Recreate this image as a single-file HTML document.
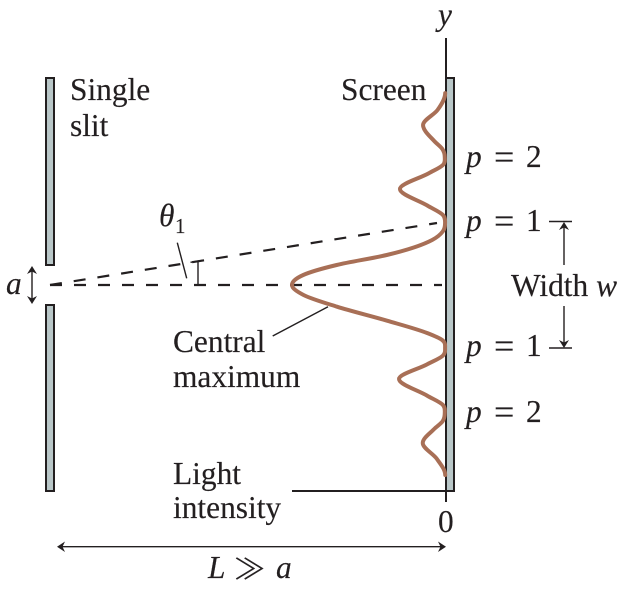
<!DOCTYPE html>
<html lang="en">
<head>
<meta charset="utf-8">
<title>Single slit diffraction</title>
<style>
html,body{margin:0;padding:0;background:#fff;width:628px;height:594px;overflow:hidden}
svg{display:block}
text{font-family:"Liberation Serif",serif;font-size:31.4px;fill:#231f20;stroke:#231f20;stroke-width:0.15}
.i{font-style:italic}
.thin{stroke:#231f20;stroke-width:1.4;fill:none}
.dash{stroke:#231f20;stroke-width:2.2;fill:none;stroke-dasharray:12 12}
.head{fill:#231f20;stroke:none}
.wall{fill:#b9c7c8;stroke:#231f20;stroke-width:2}
.eq{font-size:36px}
</style>
</head>
<body>
<svg id="chart" xmlns="http://www.w3.org/2000/svg" width="628" height="594" viewBox="0 0 628 594">
  <rect class="wall" x="46" y="78" width="8" height="187"/>
  <rect class="wall" x="46" y="305" width="8" height="186"/>
  <rect class="wall" x="446" y="78" width="8" height="413"/>
  <line x1="446" y1="38" x2="446" y2="502" stroke="#231f20" stroke-width="2"/>
  <line x1="292" y1="491" x2="446" y2="491" stroke="#231f20" stroke-width="2"/>

  <line class="dash" x1="50" y1="285" x2="442" y2="285"/>
  <line class="dash" x1="50" y1="285" x2="437" y2="223"/>

  <g id="curve-layer"></g>

  <g>
    <line class="thin" x1="198" y1="261.5" x2="198" y2="285"/>
    <line class="thin" x1="190.5" y1="262.3" x2="202" y2="260.4"/>
    <line class="thin" x1="177.3" y1="242.7" x2="186.7" y2="278.3"/>
  </g>
  <line class="thin" x1="272.7" y1="336" x2="328" y2="306.7"/>

  <g>
    <line class="thin" x1="32" y1="268" x2="32" y2="302"/>
    <path class="head" d="M32 266 L37 274 L32 271.5 L27 274 Z"/>
    <path class="head" d="M32 304 L37 296 L32 298.5 L27 296 Z"/>
  </g>
  <g>
    <line class="thin" x1="549" y1="221.5" x2="572" y2="221.5"/>
    <line class="thin" x1="564" y1="224" x2="564" y2="265"/>
    <path class="head" d="M564 222 L569 230 L564 227.5 L559 230 Z"/>
  </g>
  <g>
    <line class="thin" x1="549" y1="348" x2="572" y2="348"/>
    <line class="thin" x1="564" y1="306" x2="564" y2="346"/>
    <path class="head" d="M564 348 L569 340 L564 342.5 L559 340 Z"/>
  </g>
  <g>
    <line class="thin" x1="59" y1="546.7" x2="444" y2="546.7"/>
    <path class="head" d="M57 546.7 L65 541.5 L62.5 546.7 L65 552 Z"/>
    <path class="head" d="M446 546.7 L438 541.5 L440.5 546.7 L438 552 Z"/>
  </g>

  <text class="i" x="438" y="25">y</text>
  <text x="70" y="100">Single</text>
  <text x="70" y="136">slit</text>
  <text x="341" y="100">Screen</text>
  <text class="i" x="159" y="226">θ</text>
  <text x="175" y="233" style="font-size:21px">1</text>
  <text class="i" x="6" y="294">a</text>
  <text y="167"><tspan class="i" x="466">p</tspan><tspan class="eq" x="494" dy="2">=</tspan><tspan x="526" dy="-2">2</tspan></text>
  <text y="231"><tspan class="i" x="466">p</tspan><tspan class="eq" x="494" dy="2">=</tspan><tspan x="526" dy="-2">1</tspan></text>
  <text y="356"><tspan class="i" x="466">p</tspan><tspan class="eq" x="494" dy="2">=</tspan><tspan x="526" dy="-2">1</tspan></text>
  <text y="422"><tspan class="i" x="466">p</tspan><tspan class="eq" x="494" dy="2">=</tspan><tspan x="526" dy="-2">2</tspan></text>
  <text x="511" y="296">Width <tspan class="i">w</tspan></text>
  <text x="173" y="352">Central</text>
  <text x="173" y="387">maximum</text>
  <text x="173" y="484">Light</text>
  <text x="173" y="518">intensity</text>
  <text x="438" y="532">0</text>
  <text y="578"><tspan class="i" x="208">L</tspan><tspan class="i" x="276">a</tspan></text>
  <text transform="translate(233 579) scale(1.15 1)" style="font-family:'Noto Serif CJK SC','Liberation Serif',serif;font-size:29px;stroke-width:0.3">≫</text>
</svg>
<script>
// Position along the screen, in units of the first minimum (p = 1 at +/-1)
const screenPosition = [3.07,2.80,2.56,2.30,2.18,2.048,1.92,1.79,1.536,1.27,1.12,0.992,0.86,0.72,0.48,0.32,0.16,0,-0.16,-0.347,-0.571,-0.768,-0.88,-1.008,-1.13,-1.27,-1.504,-1.77,-1.92,-2.048,-2.18,-2.30,-2.528,-2.78,-3.04];
// Relative light intensity (central maximum = 1, as drawn)
const relativeIntensity = [0.005,0.055,0.149,0.075,0.025,0.008,0.02,0.11,0.299,0.12,0.02,0.006,0.02,0.09,0.385,0.71,0.927,1,0.925,0.708,0.383,0.123,0.025,0.006,0.02,0.123,0.305,0.123,0.02,0.008,0.022,0.075,0.151,0.06,0.005];

function yScale(u){ return 285 - u * 62.5; }
function xScale(v){ return 446 - v * 154; }

function buildCurve(){
  const ys = screenPosition.map(yScale);
  const xs = relativeIntensity.map(xScale);
  const n = ys.length;
  const slope = [];
  for (let i = 0; i < n - 1; i++){ slope.push((xs[i+1]-xs[i])/(ys[i+1]-ys[i])); }
  const tan = [0];
  for (let i = 1; i < n - 1; i++){
    if (slope[i-1]*slope[i] <= 0){ tan.push(0); }
    else {
      const h0 = ys[i]-ys[i-1], h1 = ys[i+1]-ys[i];
      tan.push((slope[i-1]*h1 + slope[i]*h0)/(h0+h1));
    }
  }
  tan.push(0);
  let d = 'M' + xs[0].toFixed(1) + ' ' + ys[0].toFixed(1);
  for (let i = 0; i < n - 1; i++){
    const h = ys[i+1]-ys[i];
    d += 'C' + (xs[i]+tan[i]*h/3).toFixed(2) + ' ' + (ys[i]+h/3).toFixed(2) + ' ' +
         (xs[i+1]-tan[i+1]*h/3).toFixed(2) + ' ' + (ys[i+1]-h/3).toFixed(2) + ' ' +
         xs[i+1].toFixed(2) + ' ' + ys[i+1].toFixed(2);
  }
  const el = document.createElementNS('http://www.w3.org/2000/svg','path');
  el.setAttribute('d', d);
  el.setAttribute('fill', 'none');
  el.setAttribute('stroke', '#a86f56');
  el.setAttribute('stroke-width', '4');
  el.setAttribute('stroke-linecap', 'round');
  el.setAttribute('stroke-linejoin', 'round');
  
  
  document.getElementById('curve-layer').appendChild(el);
}
buildCurve();
</script>
</body>
</html>
